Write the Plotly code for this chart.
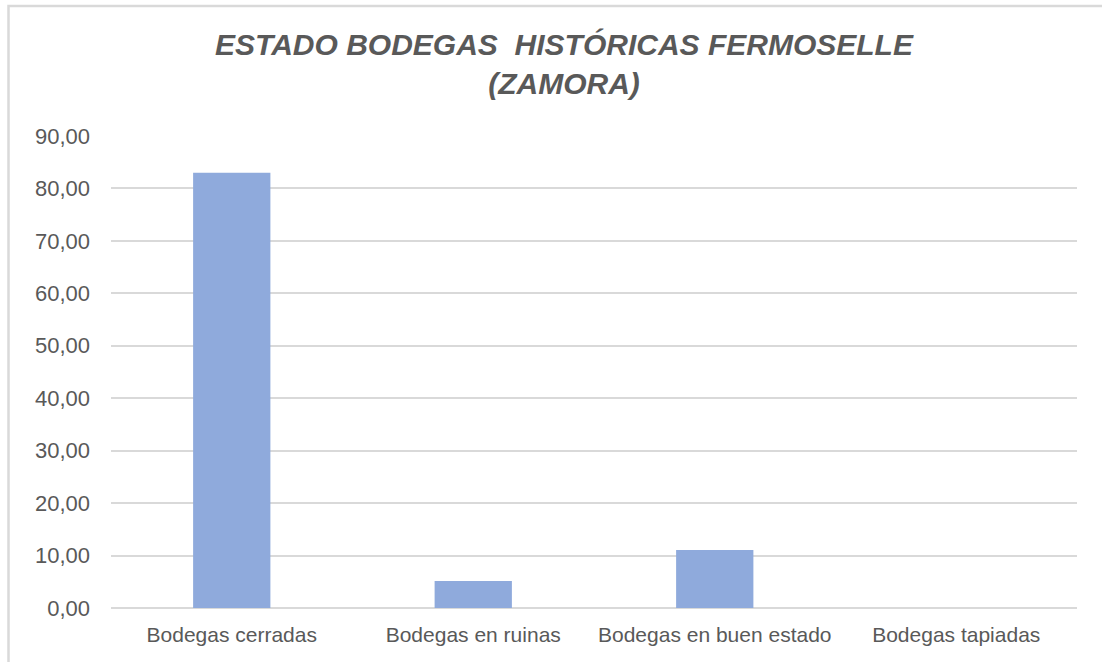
import plotly.graph_objects as go

categories = ["Bodegas cerradas", "Bodegas en ruinas", "Bodegas en buen estado", "Bodegas tapiadas"]
values = [83.0, 5.14, 11.05, 0.0]
title_lines = ["ESTADO BODEGAS  HISTÓRICAS FERMOSELLE", "(ZAMORA)"]
y_ticks = [0, 10, 20, 30, 40, 50, 60, 70, 80, 90]

TEXT = "#595959"
GRID = "#d9d9d9"
BAR = "#8faadc"
FONT = "Liberation Sans, Arial, sans-serif"

fig = go.Figure(
    go.Bar(
        x=categories,
        y=values,
        marker=dict(color=BAR, line=dict(width=0)),
        hoverinfo="x+y",
    )
)

fig.update_layout(
    width=1102,
    height=662,
    paper_bgcolor="white",
    plot_bgcolor="white",
    separators=",.",
    bargap=0.68,
    showlegend=False,
    margin=dict(l=111, r=25, t=136, b=54),
    font=dict(family=FONT, color=TEXT, size=21),
    title=dict(
        text="<br>".join(title_lines),
        x=564 / 1102,
        xanchor="center",
        y=1 - 55 / 662,
        yanchor="top",
        font=dict(family=FONT, size=30, color=TEXT, weight="bold", style="italic"),
    ),
)

fig.update_yaxes(
    range=[0, 90],
    tickvals=y_ticks,
    tickformat=".2f",
    showgrid=True,
    gridcolor=GRID,
    gridwidth=2,
    zeroline=True,
    zerolinecolor=GRID,
    zerolinewidth=2,
    showline=False,
    ticks="",
    ticklabelstandoff=20,
    tickfont=dict(size=22, color=TEXT),
    fixedrange=True,
)
fig.update_xaxes(
    showgrid=False,
    showline=False,
    ticks="",
    ticklabelstandoff=12,
    tickfont=dict(size=21, color=TEXT),
    fixedrange=True,
)

# outer chart border (partly cut off in the reference)
fig.add_shape(
    type="rect",
    xref="paper", yref="paper",
    x0=(8.5 - 111) / 966, x1=1.2,
    y0=-0.3, y1=(608.3 - 5.5) / 472.6,
    line=dict(color=GRID, width=2.5),
    fillcolor="rgba(0,0,0,0)",
    layer="below",
)

fig.write_html(
    "out.html",
    config={"displayModeBar": False},
    post_script="document.body.style.margin='0px';",
)
